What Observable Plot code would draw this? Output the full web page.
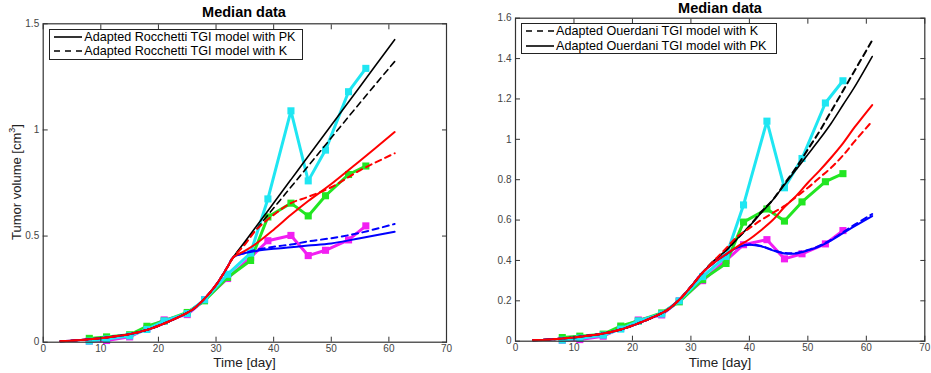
<!DOCTYPE html>
<html>
<head>
<meta charset="utf-8">
<script src="https://cdn.jsdelivr.net/npm/d3@7"></script>
<script src="https://cdn.jsdelivr.net/npm/@observablehq/plot@0.6"></script>
<style>
  html, body { margin: 0; padding: 0; background: #fff; }
  #wrap { position: relative; width: 931px; height: 373px; overflow: hidden; font-family: "Liberation Sans", Arial, Helvetica, sans-serif; }
  .panel { position: absolute; top: 0; }
  .title { position: absolute; font-weight: bold; font-size: 14.5px; line-height: 15px; color: #000; transform: translate(-50%, -50%); white-space: nowrap; }
  .xlab { position: absolute; font-size: 13.5px; line-height: 13px; color: #222; transform: translate(-50%, -50%); white-space: nowrap; }
  .ylab { position: absolute; font-size: 13px; line-height: 13px; color: #222; transform: translate(-50%, -50%) rotate(-90deg); white-space: nowrap; }
  .legend { position: absolute; border: 1px solid #222; background: #fff; font-size: 12.6px; line-height: 14.5px; color: #000; }
  .legend .row { display: flex; align-items: center; height: 14.5px; white-space: nowrap; }
  .legend svg { margin: 0 2px 0 4px; }
</style>
</head>
<body>
<div id="wrap"></div>
<script>
// ---------- data ----------
const xTicks = [0, 10, 20, 30, 40, 50, 60, 70];
const yTicksLeft = [0, 0.5, 1, 1.5];
const yTicksRight = [0, 0.2, 0.4, 0.6, 0.8, 1, 1.2, 1.4, 1.6];

// measured median data
const obsDays = [8, 11, 15, 18, 21, 25, 28, 32, 36, 39, 43, 46, 49, 53, 56];
const obsCyan = [0.005, 0.015, 0.03, 0.06, 0.10, 0.135, 0.20, 0.32, 0.42, 0.675, 1.09, 0.76, 0.905, 1.18, 1.29];
const obsGreen = [0.018, 0.025, 0.035, 0.075, 0.10, 0.14, 0.195, 0.305, 0.385, 0.59, 0.655, 0.595, 0.69, 0.79, 0.83];
const obsMagenta = [0.005, 0.008, 0.025, 0.065, 0.105, 0.13, 0.20, 0.30, 0.40, 0.478, 0.503, 0.408, 0.433, 0.482, 0.548];

// common early part of all model curves
const commonDays = [3, 6, 9, 12, 15, 18, 21, 24, 26, 28, 30, 32, 33];
const commonVol = [0.005, 0.009, 0.016, 0.026, 0.038, 0.058, 0.088, 0.125, 0.155, 0.205, 0.27, 0.355, 0.40];

// Rocchetti (left) model tails
const lateDaysL = [35, 37, 40, 43, 46, 50, 55, 61];
const rocBlackPK = [0.473, 0.546, 0.656, 0.766, 0.876, 1.022, 1.205, 1.425];
const rocBlackK = [0.466, 0.532, 0.632, 0.731, 0.830, 0.963, 1.128, 1.322];
const rocRedPK = [0.43, 0.465, 0.53, 0.60, 0.665, 0.745, 0.855, 0.99];
const rocRedK = [0.46, 0.53, 0.60, 0.655, 0.685, 0.73, 0.81, 0.89];
const rocBluePK = [0.42, 0.43, 0.44, 0.447, 0.455, 0.465, 0.49, 0.52];
const rocBlueK = [0.42, 0.435, 0.45, 0.46, 0.475, 0.49, 0.515, 0.557];

// Ouerdani (right) model tails
const commonDaysR = [3, 6, 9, 12, 15, 18, 21, 24, 26, 28, 30, 32];
const commonVolR = [0.005, 0.009, 0.016, 0.026, 0.038, 0.058, 0.088, 0.125, 0.155, 0.205, 0.27, 0.34];
const lateDaysR = [34, 36, 38, 40, 42, 44, 46, 48, 50, 52, 54, 56, 58, 61];
const ouBlackK = [0.40, 0.45, 0.51, 0.57, 0.64, 0.70, 0.78, 0.86, 0.95, 1.04, 1.14, 1.24, 1.34, 1.49];
const ouBlackPK = [0.40, 0.45, 0.51, 0.57, 0.635, 0.70, 0.775, 0.85, 0.925, 1.00, 1.08, 1.17, 1.26, 1.41];
const ouRedPK = [0.39, 0.43, 0.47, 0.505, 0.55, 0.60, 0.665, 0.72, 0.785, 0.845, 0.91, 0.98, 1.06, 1.17];
const ouRedK = [0.40, 0.46, 0.52, 0.56, 0.60, 0.635, 0.67, 0.715, 0.76, 0.81, 0.86, 0.92, 0.99, 1.09];
const ouBluePK = [0.39, 0.43, 0.465, 0.478, 0.47, 0.45, 0.435, 0.435, 0.45, 0.47, 0.50, 0.535, 0.57, 0.62];
const ouBlueK = [0.39, 0.43, 0.466, 0.479, 0.472, 0.452, 0.437, 0.437, 0.452, 0.473, 0.503, 0.54, 0.577, 0.63];

// ---------- helpers ----------
const C = { cyan: "#1fe6f2", green: "#22e622", magenta: "#f21ef2", black: "#000", red: "#ff0000", blue: "#0000ff" };
const rows = (xs, ys) => xs.map((x, i) => ({ x, y: ys[i] }));
const modelRows = (cd, cv, ld, lv) => rows(cd.concat(ld), cv.concat(lv));

function obsMarks() {
  const out = [];
  for (const [vals, col] of [[obsMagenta, C.magenta], [obsGreen, C.green], [obsCyan, C.cyan]]) {
    const r = rows(obsDays, vals);
    out.push(Plot.line(r, { x: "x", y: "y", stroke: col, strokeWidth: 3 }));
    out.push(Plot.dot(r, { x: "x", y: "y", symbol: "square", fill: col, r: 4 }));
  }
  return out;
}
function modelLine(data, col, dashed, w = 1.6) {
  return Plot.line(data, { x: "x", y: "y", stroke: col, strokeWidth: w, curve: "catmull-rom",
    strokeDasharray: dashed ? "6,4.5" : null });
}

function panel({ width, height, mL, mR, mT, mB, yDomain, yTicks, marks }) {
  const fmt = d => String(d);
  return Plot.plot({
    width, height, marginLeft: mL, marginRight: mR, marginTop: mT, marginBottom: mB,
    x: { domain: [0, 70] },
    y: { domain: yDomain },
    style: { fontFamily: "'Liberation Sans', Arial, sans-serif", fontSize: "10px", color: "#444", background: "transparent" },
    marks: [
      ...marks,
      Plot.frame({ stroke: "#333", strokeWidth: 1.2 }),
      Plot.axisX(xTicks, { anchor: "bottom", tickSize: -5, tickPadding: 8, tickFormat: fmt, label: null, stroke: "#333" }),
      Plot.axisX(xTicks, { anchor: "top", tickSize: -5, tickFormat: () => "", label: null, stroke: "#333" }),
      Plot.axisY(yTicks, { anchor: "left", tickSize: -5, tickPadding: 9, tickFormat: fmt, label: null, stroke: "#333" }),
      Plot.axisY(yTicks, { anchor: "right", tickSize: -5, tickFormat: () => "", label: null, stroke: "#333" })
    ]
  });
}

const wrap = document.getElementById("wrap");

// ---------- left panel ----------
const left = panel({
  width: 470, height: 373, mL: 42.7, mR: 24, mT: 23.3, mB: 31.3,
  yDomain: [0, 1.5], yTicks: yTicksLeft,
  marks: [
    ...obsMarks(),
    modelLine(modelRows(commonDays, commonVol, lateDaysL, rocBlackK), C.black, true),
    modelLine(modelRows(commonDays, commonVol, lateDaysL, rocBlackPK), C.black, false),
    modelLine(modelRows(commonDays, commonVol, lateDaysL, rocBlueK), C.blue, true, 2),
    modelLine(modelRows(commonDays, commonVol, lateDaysL, rocBluePK), C.blue, false, 2),
    modelLine(modelRows(commonDays, commonVol, lateDaysL, rocRedK), C.red, true, 2),
    modelLine(modelRows(commonDays, commonVol, lateDaysL, rocRedPK), C.red, false, 2)
  ]
});
left.classList.add("panel"); left.style.left = "0px";
wrap.appendChild(left);

// ---------- right panel ----------
const right = panel({
  width: 461, height: 373, mL: 45, mR: 6.7, mT: 17.7, mB: 32.3,
  yDomain: [0, 1.6], yTicks: yTicksRight,
  marks: [
    ...obsMarks(),
    modelLine(modelRows(commonDaysR, commonVolR, lateDaysR, ouBlackK), C.black, true, 2),
    modelLine(modelRows(commonDaysR, commonVolR, lateDaysR, ouBlackPK), C.black, false),
    modelLine(modelRows(commonDaysR, commonVolR, lateDaysR, ouBlueK), C.blue, true, 2),
    modelLine(modelRows(commonDaysR, commonVolR, lateDaysR, ouBluePK), C.blue, false, 2),
    modelLine(modelRows(commonDaysR, commonVolR, lateDaysR, ouRedK), C.red, true, 2),
    modelLine(modelRows(commonDaysR, commonVolR, lateDaysR, ouRedPK), C.red, false, 2)
  ]
});
right.classList.add("panel"); right.style.left = "470px";
wrap.appendChild(right);

// ---------- text overlays ----------
function addDiv(cls, text, x, y) {
  const d = document.createElement("div");
  d.className = cls; d.style.left = x + "px"; d.style.top = y + "px";
  d.innerHTML = text; wrap.appendChild(d); return d;
}
addDiv("title", "Median data", 244, 12);
addDiv("title", "Median data", 720, 7.5);
addDiv("xlab", "Time [day]", 244.5, 362);
addDiv("xlab", "Time [day]", 720, 362);
addDiv("ylab", "Tumor volume [cm<sup style='font-size:9px;line-height:0'>3</sup>]", 16, 182);

function legend(x, y, w, items) {
  const box = document.createElement("div");
  box.className = "legend";
  box.style.left = x + "px"; box.style.top = y + "px"; box.style.width = w + "px";
  box.style.padding = "0 0 0 0";
  for (const it of items) {
    const row = document.createElement("div"); row.className = "row";
    row.innerHTML = `<svg width="28" height="6"><line x1="0" y1="3" x2="28" y2="3" stroke="#000" stroke-width="1.6" ${it.dashed ? 'stroke-dasharray="6,5"' : ""}/></svg><span>${it.label}</span>`;
    box.appendChild(row);
  }
  wrap.appendChild(box);
}
legend(49.3, 28.5, 252, [
  { label: "Adapted Rocchetti TGI model with PK", dashed: false },
  { label: "Adapted Rocchetti TGI model with K", dashed: true }
]);
legend(521, 23, 254, [
  { label: "Adapted Ouerdani TGI model with K", dashed: true },
  { label: "Adapted Ouerdani TGI model with PK", dashed: false }
]);
</script>
</body>
</html>
